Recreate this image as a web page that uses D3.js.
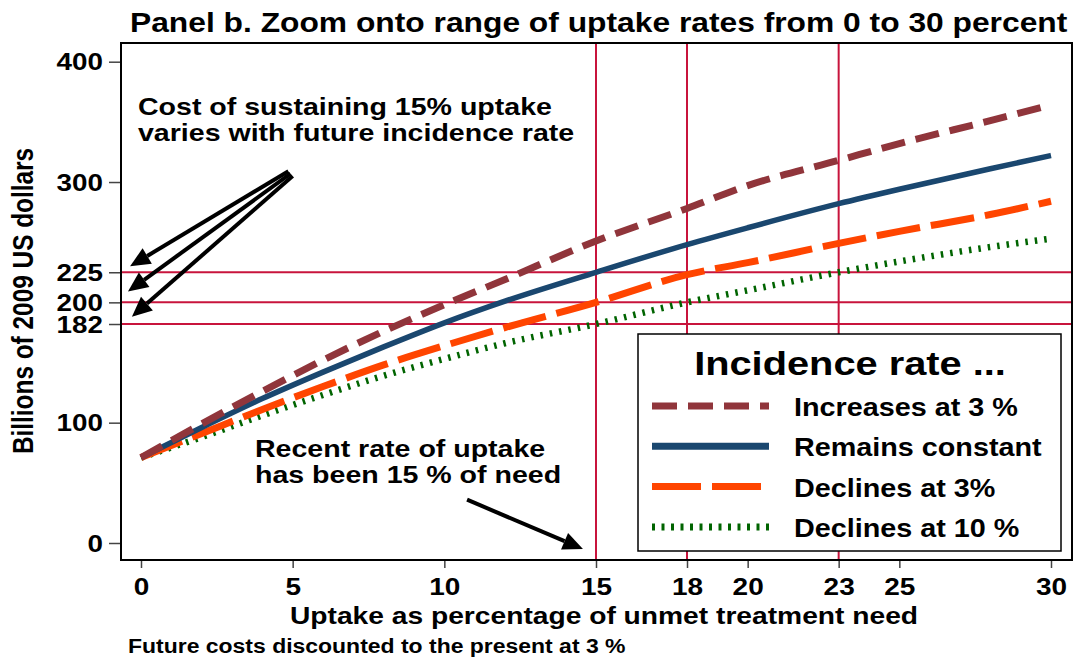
<!DOCTYPE html>
<html>
<head>
<meta charset="utf-8">
<script src="https://cdn.jsdelivr.net/npm/d3@7"></script>
<style>
  body { margin: 0; background: #fff; }
  svg text { font-family: "Liberation Sans", Arial, sans-serif; font-weight: bold; fill: #000; }
</style>
</head>
<body>
<svg id="chart" width="1075" height="662"></svg>
<script>
// uptake (% of unmet need) and cost in billions of 2009 US dollars
const uptake = [0, 2, 4, 6, 8, 10, 12, 15, 18, 20, 23, 25, 28, 30];
const increases3 = [71, 99, 126, 152, 176, 198, 219, 251, 278, 297, 318, 332, 351, 364];
const constantRate = [71, 96, 120, 142, 163, 183, 201, 225, 248, 262, 282, 294, 311, 322];
const declines3 = [71, 91, 111, 130, 148, 164, 179, 200, 223, 233, 249, 259, 273, 284];
const declines10 = [71, 88, 106, 123, 139, 153, 166, 182, 200, 210, 225, 234, 246, 253];

const seriesNames = ["Increases at 3 %", "Remains constant", "Declines at 3%", "Declines at 10 %"];
const seriesValues = [increases3, constantRate, declines3, declines10];

const xTicks = [0, 5, 10, 15, 18, 20, 23, 25, 30];
const yTicks = [0, 100, 182, 200, 225, 300, 400];
const refUptake = [15, 18, 23];
const refCost = [182, 200, 225];

const styles = [
  { color: "#90353b", width: 7, dash: "24,11", legendDash: "25,11" },
  { color: "#1a476f", width: 5.5, dash: null, legendDash: null },
  { color: "#ff4500", width: 7, dash: "44,11", legendDash: "49,11" },
  { color: "#006400", width: 6.5, dash: "2.5,7", legendDash: "3,6.5" }
];

const svg = d3.select("#chart");
const frame = { left: 121, right: 1072, top: 43, bottom: 560 };

const x = d3.scaleLinear().domain([0, 30]).range([141, 1051]);
const y = d3.scaleLinear().domain([0, 400]).range([543, 61.7]);

// Stata export is stretched sideways, so text gets a horizontal scale
function label(parent, txt, px, py, size, sx, anchor) {
  return parent.append("text")
    .attr("transform", `translate(${px},${py}) scale(${sx},1)`)
    .attr("text-anchor", anchor || "start")
    .style("font-size", size + "px")
    .text(txt);
}

// title
label(svg, "Panel b. Zoom onto range of uptake rates from 0 to 30 percent", 130, 32, 28, 1.135);

// reference lines
const refs = svg.append("g").attr("stroke", "#c8143c").attr("stroke-width", 2);
refs.selectAll("line.h").data(refCost).join("line")
  .attr("class", "h")
  .attr("x1", frame.left).attr("x2", frame.right)
  .attr("y1", d => y(d)).attr("y2", d => y(d));
refs.selectAll("line.v").data(refUptake).join("line")
  .attr("class", "v")
  .attr("y1", frame.top).attr("y2", frame.bottom)
  .attr("x1", d => x(d)).attr("x2", d => x(d));

// curves
const line = d3.line()
  .x(d => x(d[0]))
  .y(d => y(d[1]))
  .curve(d3.curveMonotoneX);

const order = [3, 2, 1, 0];
order.forEach(i => {
  svg.append("path")
    .datum(uptake.map((u, k) => [u, seriesValues[i][k]]))
    .attr("fill", "none")
    .attr("stroke", styles[i].color)
    .attr("stroke-width", styles[i].width)
    .attr("stroke-dasharray", styles[i].dash)
    .attr("d", line);
});

// frame
svg.append("rect")
  .attr("x", frame.left).attr("y", frame.top)
  .attr("width", frame.right - frame.left)
  .attr("height", frame.bottom - frame.top)
  .attr("fill", "none").attr("stroke", "#000").attr("stroke-width", 2);

// y axis
const yAxis = svg.append("g")
  .attr("transform", `translate(${frame.left},0)`)
  .call(d3.axisLeft(y).tickValues(yTicks).tickSize(12).tickPadding(6).tickFormat(d3.format("d")));
yAxis.select(".domain").remove();
yAxis.selectAll(".tick line").attr("stroke", "#444").attr("stroke-width", 1.5).attr("x1", -1);
yAxis.selectAll(".tick text")
  .style("font-size", "23px")
  .attr("x", null).attr("dy", null)
  .attr("transform", "translate(-18,8) scale(1.21,1)");

// x axis
const xAxis = svg.append("g")
  .attr("transform", `translate(0,${frame.bottom})`)
  .call(d3.axisBottom(x).tickValues(xTicks).tickSize(8).tickPadding(10).tickFormat(d3.format("d")));
xAxis.select(".domain").remove();
xAxis.selectAll(".tick line").attr("stroke", "#444").attr("stroke-width", 1.5).attr("y1", 1);
xAxis.selectAll(".tick text")
  .style("font-size", "23.5px")
  .attr("y", null).attr("dy", null)
  .attr("transform", "translate(0,35) scale(1.19,1)");

// axis titles
label(svg, "Uptake as percentage of unmet treatment need", 604, 624, 23.7, 1.19, "middle");
svg.append("text")
  .attr("transform", "translate(33,301) rotate(-90) scale(1,1.19)")
  .attr("text-anchor", "middle")
  .style("font-size", "24.4px")
  .text("Billions of 2009 US dollars");
label(svg, "Future costs discounted to the present at 3 %", 128, 653, 19.3, 1.19);

// annotations
label(svg, "Cost of sustaining 15% uptake", 138, 115, 24, 1.19);
label(svg, "varies with future incidence rate", 138, 141, 24, 1.19);
label(svg, "Recent rate of uptake", 255, 457, 24, 1.19);
label(svg, "has been 15 % of need", 255, 483, 24, 1.19);

const arrows = [
  { from: [4.86, 309], to: [-0.36, 230] },
  { from: [4.93, 307], to: [-0.43, 209] },
  { from: [5.0, 305], to: [-0.3, 188] },
  { from: [10.75, 36], to: [14.57, -5] }
];

const arrowG = svg.append("g");
arrows.forEach(a => {
  const x0 = x(a.from[0]), y0 = y(a.from[1]);
  const x1 = x(a.to[0]), y1 = y(a.to[1]);
  const len = Math.hypot(x1 - x0, y1 - y0);
  const ux = (x1 - x0) / len, uy = (y1 - y0) / len;
  const head = 20, half = 9;
  const bx = x1 - ux * head, by = y1 - uy * head;
  arrowG.append("line")
    .attr("x1", x0).attr("y1", y0).attr("x2", bx).attr("y2", by)
    .attr("stroke", "#000").attr("stroke-width", 4);
  arrowG.append("polygon")
    .attr("points", [[x1, y1], [bx - uy * half, by + ux * half], [bx + uy * half, by - ux * half]]
      .map(p => p.join(",")).join(" "))
    .attr("fill", "#000");
});

// legend
const legend = svg.append("g");
legend.append("rect")
  .attr("x", 638).attr("y", 334).attr("width", 423).attr("height", 217)
  .attr("fill", "#fff").attr("stroke", "#000").attr("stroke-width", 1.5);
label(legend, "Incidence rate ...", 850, 375, 34, 1.17, "middle");
seriesNames.forEach((name, i) => {
  const cy = 406 + i * 40.3;
  legend.append("line")
    .attr("x1", 652).attr("x2", 769).attr("y1", cy).attr("y2", cy)
    .attr("stroke", styles[i].color)
    .attr("stroke-width", 7)
    .attr("stroke-dasharray", styles[i].legendDash);
  label(legend, name, 794, cy + 10, 25, 1.15);
});
</script>
</body>
</html>
